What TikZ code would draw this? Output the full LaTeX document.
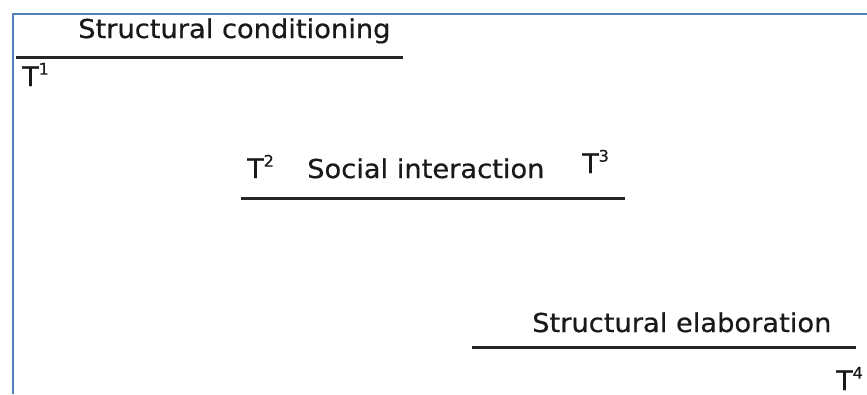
\documentclass[tikz,border=0pt]{standalone}
\usepackage{fontspec}
\setmainfont{DejaVu Sans}
\newfontfamily\diagfont{DejaVu Sans}[FakeBold=0.6]
\usepackage{xcolor}
\definecolor{framecol}{RGB}{79,129,189}
\usetikzlibrary{positioning}
\newcommand\tpoint[1]{T\raisebox{0.42em}{\fontsize{16}{16}\selectfont #1}}
\tikzset{
  phase/.style={font=\diagfont\fontsize{26}{30}\selectfont,inner sep=0pt,%
    anchor=base west,xscale=1.05,text=black!90},
  stamp/.style={font=\diagfont\fontsize{27}{30}\selectfont,inner sep=0pt,%
    anchor=base west,text=black!90},
  period/.style={line width=3pt,draw=black!85},
  frame/.style={draw=framecol,line width=2pt},
}

\begin{document}
\begin{tikzpicture}[x=1pt,y=-1pt]
\useasboundingbox (0,0) rectangle (867,394);
\draw[frame] (13,394) |- (867,14);
% the three periods
\coordinate (p1a) at (16,57);  \coordinate (p1b) at (403,57);
\coordinate (p2a) at (241,198); \coordinate (p2b) at (625,198);
\coordinate (p3a) at (472,347); \coordinate (p3b) at (856,347);
\draw[period] (p1a) -- (p1b);
\draw[period] (p2a) -- (p2b);
\draw[period] (p3a) -- (p3b);
\node[phase] (cond) at (78,38) {Structural conditioning};
\node[phase] (inter) at (307,178) {Social interaction};
\node[phase] (elab) at (532,332) {Structural elaboration};
% time points
\node[stamp] (t1) at (22,86) {\tpoint{1}};
\node[stamp] (t2) at (247,178) {\tpoint{2}};
\node[stamp] (t3) at (582,173) {\tpoint{3}};
\node[stamp] (t4) at (836,390) {\tpoint{4}};
\end{tikzpicture}
\end{document}
